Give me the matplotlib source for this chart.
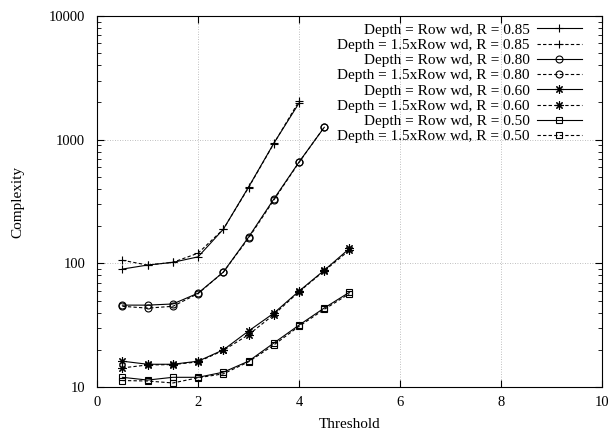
import numpy as np
import matplotlib.pyplot as plt

plt.rcParams['font.family'] = ['Liberation Serif', 'DejaVu Serif']

threshold = [0.5, 1.0, 1.5, 2.0, 2.5, 3.0, 3.5, 4.0, 4.5, 5.0]

# R = 0.85
r85_row = [90, 97, 102, 113, 189, 414, 935, 1977]
r85_15row = [106, 97, 102, 121, 189, 410, 930, 2050]
# R = 0.80
r80_row = [46, 46, 47, 57.5, 85, 163, 331, 660, 1260]
r80_15row = [45, 43.5, 45, 57, 85, 160, 325, 655, 1265]
# R = 0.60
r60_row = [16.2, 15.3, 15.3, 16.2, 20, 28.4, 39.6, 59.7, 88, 132]
r60_15row = [14.3, 15.1, 15.2, 16.0, 19.8, 26.5, 38.5, 59, 87, 128]
# R = 0.50
r50_row = [12.0, 11.4, 12.0, 12.0, 13.2, 16.2, 22.7, 31.7, 43.6, 58.5]
r50_15row = [11.3, 11.2, 10.8, 11.9, 12.8, 16.0, 21.9, 31.0, 42.5, 57.0]

labels = [
    "Depth = Row wd, R = 0.85",
    "Depth = 1.5xRow wd, R = 0.85",
    "Depth = Row wd, R = 0.80",
    "Depth = 1.5xRow wd, R = 0.80",
    "Depth = Row wd, R = 0.60",
    "Depth = 1.5xRow wd, R = 0.60",
    "Depth = Row wd, R = 0.50",
    "Depth = 1.5xRow wd, R = 0.50",
]
series = [r85_row, r85_15row, r80_row, r80_15row, r60_row, r60_15row, r50_row, r50_15row]
markers = ['+', '+', 'o', 'o', (8, 2, 0), (8, 2, 0), 's', 's']

fig = plt.figure(figsize=(6.11, 4.33), dpi=100)
ax = fig.add_axes([0.159, 0.106, 0.826, 0.857])

for i, (ys, lab, m) in enumerate(zip(series, labels, markers)):
    xs = threshold[:len(ys)]
    ls = '-' if i % 2 == 0 else (0, (3, 2))
    ms = 6 if m in ('+', (8, 2, 0)) else 5
    ax.plot(xs, ys, linestyle=ls, color='black', lw=0.8, marker=m, ms=ms,
            mfc='none', mec='black', mew=0.8, label=lab)

ax.set_yscale('log')
ax.set_xlim(0, 10)
ax.set_ylim(10, 10000)
ax.set_xticks([0, 2, 4, 6, 8, 10])
ax.set_yticks([10, 100, 1000, 10000])
ax.set_yticklabels(['10', '100', '1000', '10000'])
ax.tick_params(which='both', direction='in', top=True, right=True, labelsize=10.5)
ax.tick_params(which='major', length=5)
ax.tick_params(which='minor', length=3)
ax.tick_params(axis='y', which='major', pad=8.5)
ax.tick_params(axis='x', which='major', pad=6.5)
ax.grid(True, which='major', color='#aaaaaa', linestyle=(0, (1, 2)), lw=0.6)

ax.set_xlabel('Threshold', fontsize=11, va='center')
ax.set_ylabel('Complexity', fontsize=11, va='center')
ax.xaxis.set_label_coords(0.5, -0.102)
ax.yaxis.set_label_coords(-0.158, 0.5)

ax.legend(loc='upper right', bbox_to_anchor=(0.960, 0.981), markerfirst=False,
          frameon=False, fontsize=11, labelspacing=0.1, handlelength=2.9,
          handletextpad=0.5, borderaxespad=0, borderpad=0)

fig.savefig('out.png', dpi=100)
